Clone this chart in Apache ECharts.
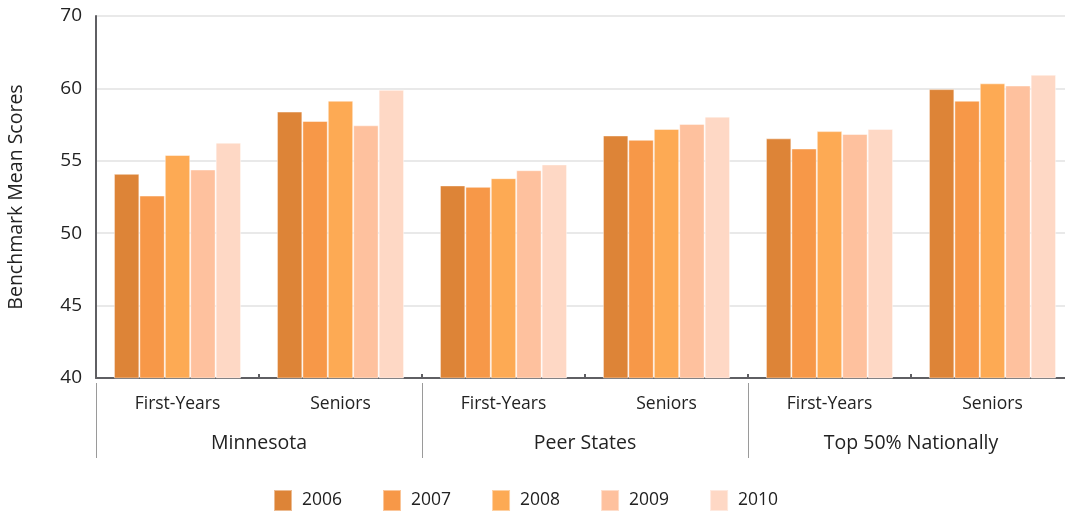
<!DOCTYPE html>
<html><head><meta charset="utf-8">
<script src="https://cdn.jsdelivr.net/npm/echarts@6/dist/echarts.min.js"></script>
<style>html,body{margin:0;padding:0;background:#fff}#c{width:1065px;height:514px}</style>
</head><body><div id="c"></div>
<script>
const categories = ['First-Years','Seniors','First-Years','Seniors','First-Years','Seniors'];
const groups = ['Minnesota','Peer States','Top 50% Nationally'];
const years = ['2006','2007','2008','2009','2010'];
const v2006 = [54.1, 58.4, 53.3, 56.75, 56.55, 59.95];
const v2007 = [52.6, 57.75, 53.2, 56.45, 55.85, 59.15];
const v2008 = [55.4, 59.15, 53.8, 57.2, 57.05, 60.35];
const v2009 = [54.4, 57.45, 54.35, 57.55, 56.85, 60.2];
const v2010 = [56.25, 59.9, 54.75, 58.05, 57.2, 60.95];
const yTickLabels = ['40','45','50','55','60','70'];
const colors = ['#DD8437','#F79848','#FDAA54','#FEC19E','#FED8C5'];
const allValues = [v2006, v2007, v2008, v2009, v2010];

const font = '"Open Sans", sans-serif';
const chart = echarts.init(document.getElementById('c'), null, {renderer:'canvas'});
chart.setOption({
  animation: false,
  textStyle: {fontFamily: font},
  color: colors,
  grid: {left: 96, right: -9, top: 16, bottom: 136, containLabel: false, outerBoundsMode: 'none'},
  legend: {
    left: 273, top: 489, padding: 0, itemWidth: 18, itemHeight: 21, itemGap: 40,
    icon: 'rect',
    data: years,
    textStyle: {fontSize: 17.5, color: '#222', fontFamily: font, padding: [0,0,0,5]}
  },
  xAxis: [{
    type: 'category', data: categories, position: 'bottom',
    axisLine: {show: true, lineStyle: {color: '#5f5f63', width: 2}},
    axisTick: {show: true, inside: true, length: 4, lineStyle: {color: '#5f5f63', width: 2}},
    axisLabel: {fontSize: 17.5, color: '#222', margin: 17, fontFamily: font},
    splitLine: {show: false}
  }, {
    type: 'category', data: groups, position: 'bottom', offset: 5,
    axisLine: {show: false},
    axisTick: {show: true, length: 75, lineStyle: {color: '#9a9a9a', width: 1}},
    axisLabel: {fontSize: 19.5, color: '#222', margin: 50, fontFamily: font},
    splitLine: {show: false}
  }],
  yAxis: {
    type: 'value', min: 40, max: 65, interval: 5,
    name: 'Benchmark Mean Scores', nameLocation: 'middle', nameGap: 70, nameRotate: 90,
    nameTextStyle: {fontSize: 19.5, color: '#222', fontFamily: font},
    axisLine: {show: true, lineStyle: {color: '#5f5f63', width: 2}},
    axisTick: {show: false},
    axisLabel: {fontSize: 19, color: '#222', margin: 14, fontFamily: font,
      formatter: (v) => yTickLabels[Math.round((v - 40) / 5)]},
    splitLine: {show: true, lineStyle: {color: '#e2e2e2', width: 1.5}}
  },
  series: years.map((y, i) => ({
    name: y, type: 'bar', xAxisIndex: 0,
    data: allValues[i],
    barGap: '0%', barCategoryGap: '22%',
    itemStyle: {color: colors[i], borderColor: 'rgba(255,255,255,0.45)', borderWidth: 1}
  }))
});
</script></body></html>
